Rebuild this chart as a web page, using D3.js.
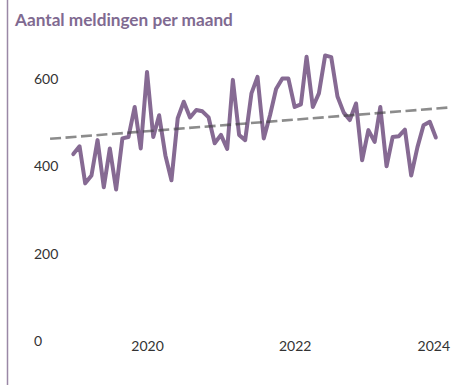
<!DOCTYPE html>
<html>
<head>
<meta charset="utf-8">
<script src="https://cdn.jsdelivr.net/npm/d3@7"></script>
<style>
  html, body { margin: 0; padding: 0; background: #ffffff; }
  svg { display: block; font-family: Lato, "Open Sans", sans-serif; }
</style>
</head>
<body>
<svg id="chart" width="451" height="385"></svg>
<script>
// Monthly report counts, January 2019 through December 2023
const startMonth = "2019-01";
const meldingen = [
  428, 446, 361, 379, 460, 352, 441, 347, 464, 467, 536, 441,
  616, 467, 517, 425, 368, 510, 548, 512, 529, 526, 512, 453,
  472, 440, 598, 472, 460, 567, 605, 464, 517, 577, 601, 601,
  536, 542, 651, 536, 567, 654, 650, 560, 523, 506, 544, 414,
  483, 456, 536, 400, 467, 469, 484, 379, 444, 494, 502, 466
];

// Linear trend line, end points
const trendDates = ["2018-09-08", "2024-02-14"];
const trendValues = [463, 535];

// Axis ticks
const yTicks = [0, 200, 400, 600];
const xTickYears = [2020, 2022, 2024];

const title = "Aantal meldingen per maand";

const width = 451, height = 385;
const svg = d3.select("#chart");

const parseMonth = d3.timeParse("%Y-%m");
const parseDay = d3.timeParse("%Y-%m-%d");
const first = parseMonth(startMonth);
const series = meldingen.map((v, i) => ({ date: d3.timeMonth.offset(first, i), value: v }));
const trend = trendDates.map((d, i) => ({ date: parseDay(d), value: trendValues[i] }));

const x = d3.scaleTime()
  .domain([new Date(2019, 0, 1), new Date(2024, 0, 1)])
  .range([73.3, 442.1]);

const y = d3.scaleLinear()
  .domain([0, 600])
  .range([341, 79]);

// left frame edge
svg.append("line")
  .attr("x1", 7.5).attr("x2", 7.5)
  .attr("y1", 0).attr("y2", height)
  .attr("stroke", "#9a88a6")
  .attr("stroke-width", 1.5);

// title
svg.append("text")
  .attr("x", 15)
  .attr("y", 26)
  .attr("fill", "#7f6a91")
  .attr("font-weight", "bold")
  .attr("font-size", 17.2)
  .text(title);

// y axis labels
const yAxis = svg.append("g")
  .attr("transform", "translate(34,0)")
  .call(d3.axisRight(y).tickValues(yTicks).tickSize(0).tickPadding(0).tickFormat(d3.format("d")));
yAxis.select(".domain").remove();
yAxis.selectAll("text")
  .attr("font-family", "Lato, 'Open Sans', sans-serif")
  .attr("font-size", 14)
  .attr("fill", "#333333")
  .attr("text-anchor", "start");

// x axis labels
const xAxis = svg.append("g")
  .attr("transform", "translate(0,341)")
  .call(d3.axisBottom(x)
    .tickValues(xTickYears.map(yr => new Date(yr, 0, 1)))
    .tickSize(0).tickPadding(0)
    .tickFormat(d3.timeFormat("%Y")));
xAxis.select(".domain").remove();
xAxis.selectAll("text")
  .attr("font-family", "Lato, 'Open Sans', sans-serif")
  .attr("font-size", 14)
  .attr("fill", "#333333");
// keep the last year label inside the frame
xAxis.selectAll(".tick").each(function () {
  const t = d3.select(this).select("text");
  const bb = this.getBBox();
  const m = this.getAttribute("transform").match(/translate\(([-\d.]+)/);
  const tx = m ? +m[1] : 0;
  const right = tx + bb.x + bb.width;
  if (right > width - 1) t.attr("dx", (width - 1 - right));
});

// data line
const line = d3.line()
  .x(d => x(d.date))
  .y(d => y(d.value));

svg.append("path")
  .datum(series)
  .attr("fill", "none")
  .attr("stroke", "#866a93")
  .attr("stroke-width", 4)
  .attr("stroke-linejoin", "round")
  .attr("stroke-linecap", "round")
  .attr("d", line);

// trend line
svg.append("path")
  .datum(trend)
  .attr("fill", "none")
  .attr("stroke", "#404040")
  .attr("stroke-opacity", 0.6)
  .attr("stroke-width", 2.6)
  .attr("stroke-dasharray", "11,4.5")
  .attr("d", line);
</script>
</body>
</html>
